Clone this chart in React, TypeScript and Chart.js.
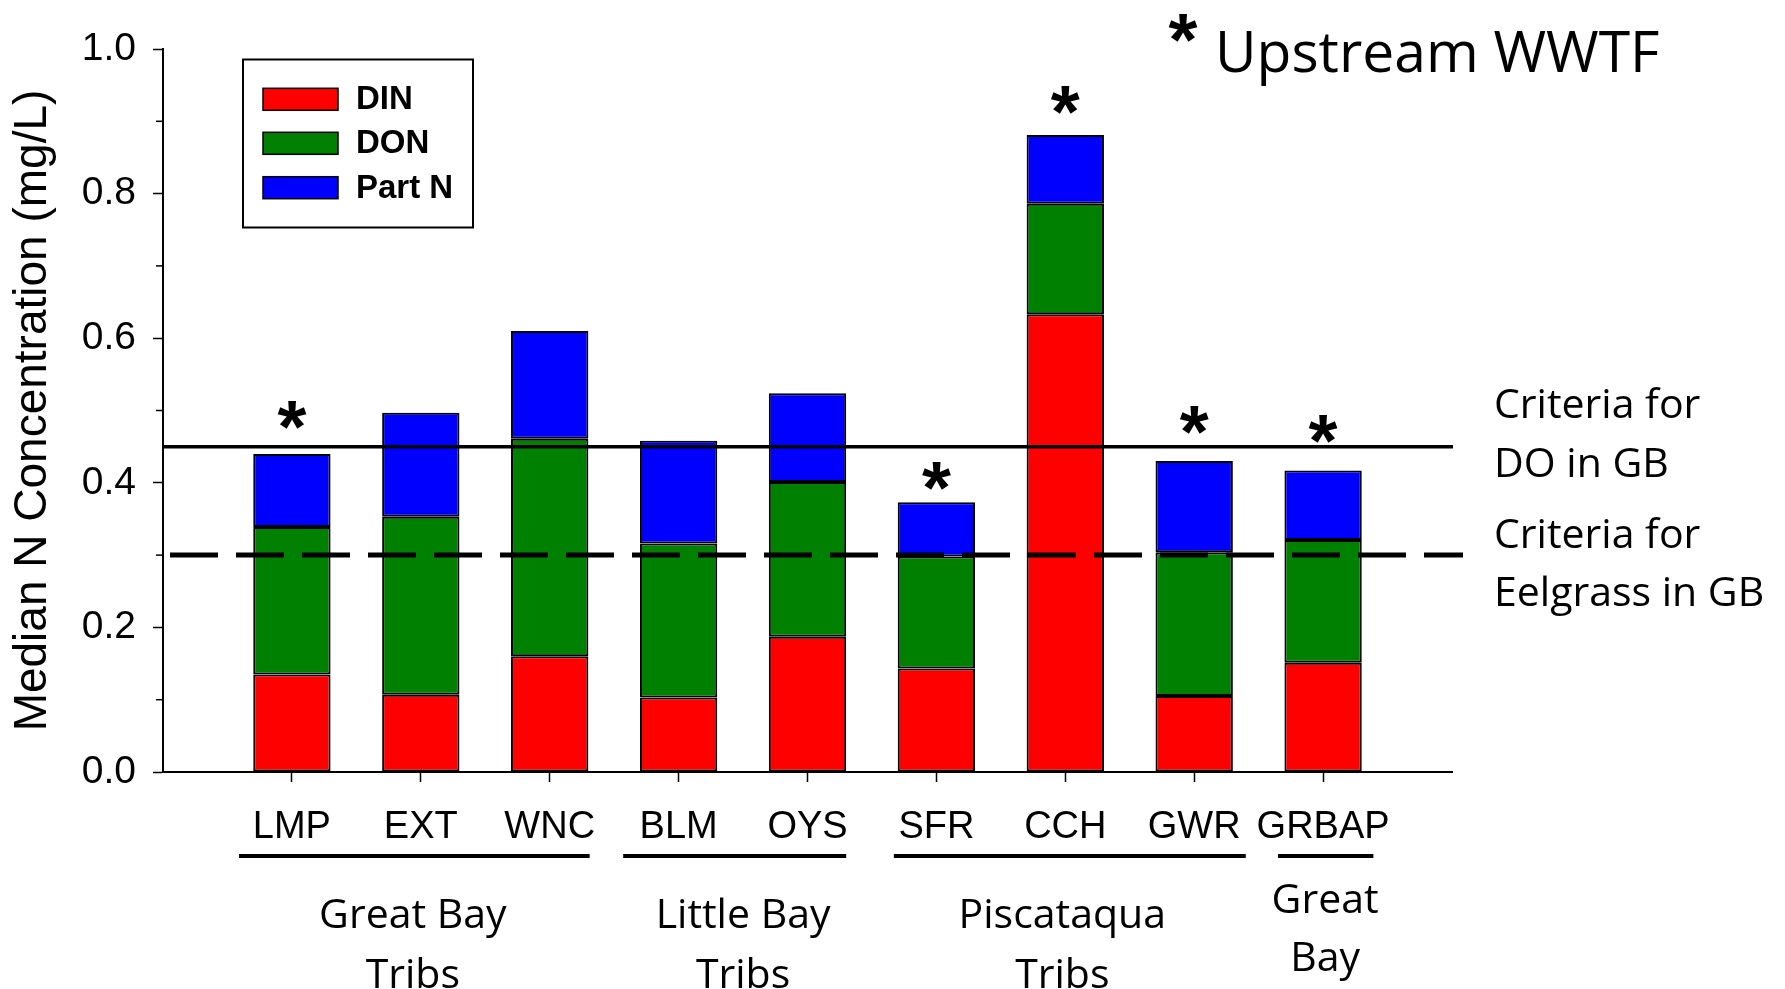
import React, { useEffect, useRef } from 'react';
import { Chart, registerables } from 'chart.js';

Chart.register(...registerables);

// ---------- data ----------
const categories = ['LMP', 'EXT', 'WNC', 'BLM', 'OYS', 'SFR', 'CCH', 'GWR', 'GRBAP'];
const seriesNames = ['DIN', 'DON', 'Part N'];
const seriesColors = ['#FF0000', '#008000', '#0000FF'];
const din = [0.135, 0.107, 0.160, 0.103, 0.187, 0.143, 0.633, 0.105, 0.151];
const don = [0.204, 0.246, 0.301, 0.213, 0.214, 0.155, 0.153, 0.199, 0.170];
const partN = [0.101, 0.144, 0.149, 0.142, 0.123, 0.075, 0.095, 0.126, 0.096];
// level (mg/L) of the "upstream WWTF" asterisk above each bar (null = none)
const upstreamLevel = [0.494, null, null, null, null, 0.409, 0.930, 0.487, 0.475];
const yTickLabels = ['0.0', '0.2', '0.4', '0.6', '0.8', '1.0'];
const yMinorTicks = [0.1, 0.3, 0.5, 0.7, 0.9];
const criteriaValues = [0.45, 0.30];
const criteriaLabels = [['Criteria for', 'DO in GB'], ['Criteria for', 'Eelgrass in GB']];
const groupNames = [['Great Bay', 'Tribs'], ['Little Bay', 'Tribs'], ['Piscataqua', 'Tribs'], ['Great', 'Bay']];
const groupFirst = [0, 3, 5, 8];
const groupLast = [2, 4, 7, 8];
const yTitle = 'Median N Concentration (mg/L)';
const noteText = 'Upstream WWTF';

// ---------- layout constants ----------
const W = 1785;
const H = 989;
const groupLineY = 856;
const groupLineLeft = [-0.41, -0.43, -0.33, -0.35];
const groupLineRight = [0.31, 0.30, 0.40, 0.39];
const groupTextDx = [-8, 0, -3, 2];
const groupTextY = [[916, 976], [916, 976], [916, 976], [901, 959]];
const criteriaTextOffsets = [[-40, 19], [-19, 39]];

const paddedLabels = ['', ...categories, ''];
const pad = (arr: number[]) => [null, ...arr, null];

const ASTER_FONT = '"Liberation Sans", Arial, sans-serif';

function drawAsterisk(ctx: CanvasRenderingContext2D, cx: number, cy: number, inkW: number) {
  ctx.textAlign = 'left';
  ctx.textBaseline = 'alphabetic';
  ctx.font = `bold 100px ${ASTER_FONT}`;
  const m = ctx.measureText('*');
  const w100 = m.actualBoundingBoxLeft + m.actualBoundingBoxRight;
  const size = (100 * inkW) / w100;
  ctx.font = `bold ${size}px ${ASTER_FONT}`;
  const mm = ctx.measureText('*');
  const x = cx - (mm.actualBoundingBoxRight - mm.actualBoundingBoxLeft) / 2;
  const y = cy + (mm.actualBoundingBoxAscent - mm.actualBoundingBoxDescent) / 2;
  ctx.fillText('*', x, y);
}

const overlayPlugin = {
  id: 'overlay',
  afterDraw(chart: any) {
    const { ctx, chartArea } = chart;
    const x = chart.scales.x;
    const y = chart.scales.y;
    ctx.save();
    ctx.fillStyle = '#000';
    ctx.strokeStyle = '#000';

    // minor y ticks
    ctx.lineWidth = 1.5;
    yMinorTicks.forEach((v) => {
      const py = y.getPixelForValue(v);
      ctx.beginPath();
      ctx.moveTo(chartArea.left - 7, py);
      ctx.lineTo(chartArea.left, py);
      ctx.stroke();
    });

    // criteria lines
    const pySolid = y.getPixelForValue(criteriaValues[0]);
    ctx.lineWidth = 3.5;
    ctx.setLineDash([]);
    ctx.beginPath();
    ctx.moveTo(chartArea.left, pySolid);
    ctx.lineTo(chartArea.right + 1, pySolid);
    ctx.stroke();
    const pyDash = y.getPixelForValue(criteriaValues[1]);
    ctx.lineWidth = 5;
    ctx.setLineDash([48, 18]);
    ctx.beginPath();
    ctx.moveTo(chartArea.left + 7, pyDash);
    ctx.lineTo(chartArea.right + 11, pyDash);
    ctx.stroke();
    ctx.setLineDash([]);

    // criteria text
    ctx.font = '41px "Open Sans", sans-serif';
    ctx.textAlign = 'left';
    ctx.textBaseline = 'middle';
    [pySolid, pyDash].forEach((py, i) => {
      criteriaLabels[i].forEach((t, j) => {
        ctx.fillText(t, chartArea.right + 42, py + criteriaTextOffsets[i][j]);
      });
    });

    // asterisks above bars
    upstreamLevel.forEach((lv, i) => {
      if (lv == null) return;
      drawAsterisk(ctx, x.getPixelForValue(i + 1), y.getPixelForValue(lv), 29);
    });

    // note at top right
    drawAsterisk(ctx, 1183, 27.5, 29);
    ctx.font = '57px "Open Sans", sans-serif';
    ctx.textAlign = 'left';
    ctx.textBaseline = 'alphabetic';
    ctx.fillText(noteText, 1215, 72);

    // groups
    const step = x.getPixelForValue(2) - x.getPixelForValue(1);
    groupNames.forEach((names, g) => {
      const x0 = x.getPixelForValue(groupFirst[g] + 1);
      const x1 = x.getPixelForValue(groupLast[g] + 1);
      ctx.lineWidth = 4;
      ctx.beginPath();
      ctx.moveTo(x0 + groupLineLeft[g] * step, groupLineY);
      ctx.lineTo(x1 + groupLineRight[g] * step, groupLineY);
      ctx.stroke();
      ctx.font = '41px "Open Sans", sans-serif';
      ctx.textAlign = 'center';
      ctx.textBaseline = 'middle';
      names.forEach((t, j) => ctx.fillText(t, (x0 + x1) / 2 + groupTextDx[g], groupTextY[g][j]));
    });

    // legend
    const bx = 243, by = 59.5, bw = 230, bh = 168;
    ctx.lineWidth = 2;
    ctx.strokeRect(bx, by, bw, bh);
    const rowY = [99.3, 143.3, 187.7];
    chart.data.datasets.forEach((ds: any, i: number) => {
      ctx.fillStyle = ds.backgroundColor;
      ctx.fillRect(263, rowY[i] - 11, 75, 22);
      ctx.lineWidth = 1.5;
      ctx.strokeRect(263, rowY[i] - 11, 75, 22);
      ctx.fillStyle = '#000';
      ctx.font = 'bold 33px "Liberation Sans", Arial, sans-serif';
      ctx.textAlign = 'left';
      ctx.textBaseline = 'middle';
      ctx.fillText(ds.label, 356, rowY[i] + 1);
    });
    ctx.restore();
  },
};

export default function App() {
  const ref = useRef<HTMLCanvasElement | null>(null);
  useEffect(() => {
    document.body.style.margin = '0';
    if (!ref.current) return;
    const series = [din, don, partN];
    const chart = new Chart(ref.current, {
      type: 'bar',
      data: {
        labels: paddedLabels,
        datasets: series.map((s, i) => ({
          label: seriesNames[i],
          data: pad(s),
          backgroundColor: seriesColors[i],
          borderColor: '#000',
          borderWidth: 2,
          borderSkipped: false,
          barPercentage: 0.6,
          categoryPercentage: 1.0,
        })),
      },
      options: {
        responsive: false,
        animation: false,
        devicePixelRatio: 1,
        layout: { padding: { left: 0, top: 49, right: 333, bottom: 0 } },
        plugins: { legend: { display: false }, tooltip: { enabled: false } },
        scales: {
          x: {
            stacked: true,
            offset: false,
            grid: {
              display: true,
              drawOnChartArea: false,
              offset: false,
              tickLength: 10,
              tickWidth: 1.5,
              tickColor: (c: any) =>
                c.index === 0 || c.index === paddedLabels.length - 1 ? 'rgba(0,0,0,0)' : '#000',
            },
            border: { display: true, color: '#000', width: 2 },
            ticks: {
              color: '#000',
              font: { family: '"Liberation Sans", Arial, sans-serif', size: 38 },
              padding: 23,
              maxRotation: 0,
              autoSkip: false,
            },
            afterFit: (s: any) => {
              s.height = 217;
            },
          },
          y: {
            stacked: true,
            min: 0,
            max: 1,
            grid: {
              display: true,
              drawOnChartArea: false,
              tickLength: 10,
              tickWidth: 1.5,
              tickColor: (c: any) => (c.index % 2 === 0 ? '#000' : 'rgba(0,0,0,0)'),
            },
            border: { display: true, color: '#000', width: 2 },
            ticks: {
              stepSize: 0.1,
              autoSkip: false,
              color: '#000',
              font: { family: '"Liberation Sans", Arial, sans-serif', size: 39 },
              padding: 17,
              callback: (_v: any, idx: number) => (idx % 2 === 0 ? yTickLabels[idx / 2] : ''),
            },
            title: {
              display: true,
              text: yTitle,
              color: '#000',
              font: { family: '"Liberation Sans", Arial, sans-serif', size: 46 },
              padding: { top: 6, bottom: 0 },
            },
            afterFit: (s: any) => {
              s.width = 163;
            },
          },
        },
      },
      plugins: [overlayPlugin],
    });
    return () => chart.destroy();
  }, []);
  return (
    <div style={{ width: W, height: H }}>
      <canvas ref={ref} width={W} height={H} style={{ display: 'block' }} />
    </div>
  );
}
